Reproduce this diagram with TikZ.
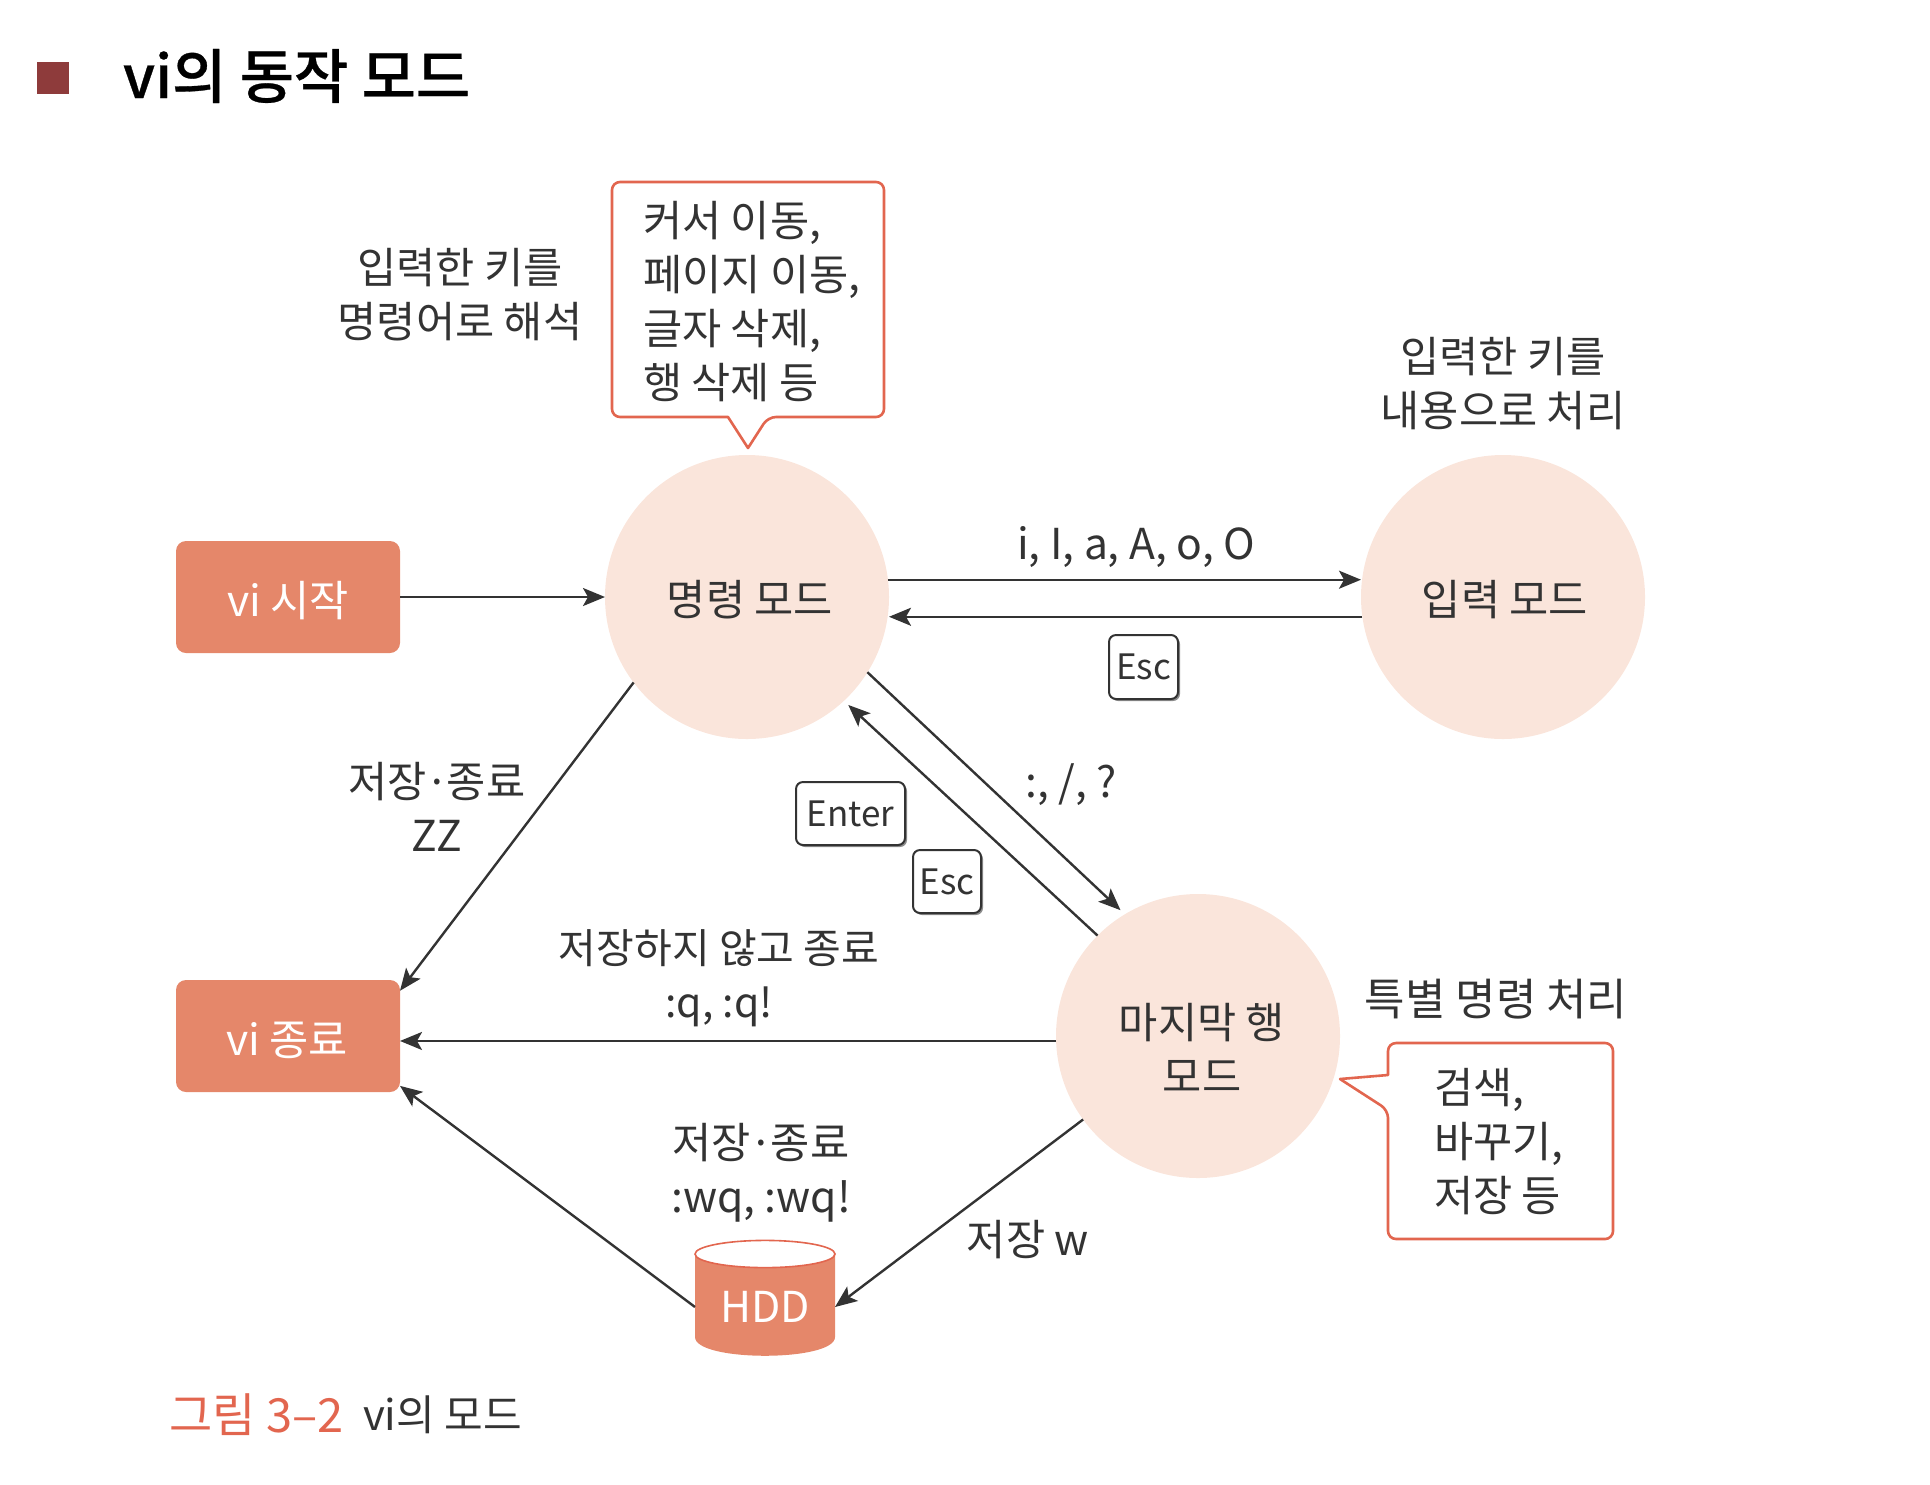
\documentclass[tikz,border=0pt]{standalone}
\usepackage{fontspec}
\setmainfont{Noto Sans CJK KR}
\newfontfamily\titlefont[FakeBold=0.5]{Noto Sans CJK KR Medium}
\usetikzlibrary{arrows.meta,shadows}
\definecolor{txt}{HTML}{333333}
\definecolor{circ}{HTML}{FAE5DB}
\definecolor{boxc}{HTML}{E5876A}
\definecolor{redl}{HTML}{E2664F}
\definecolor{sq}{HTML}{8E3B3B}
\newcommand{\mdot}{\hspace{-.05em}·\hspace{-.05em}}
\tikzset{
  base/.style={font=\fontsize{21.3}{27}\selectfont,text=txt,inner sep=0pt,outer sep=0pt,align=center},
  modecircle/.style={base,circle,fill=circ,minimum size=142pt},
  startbox/.style={base,rectangle,rounded corners=5pt,fill=boxc,text=white,minimum width=112pt,minimum height=56pt},
  keybox/.style={base,rectangle,rounded corners=3.5pt,draw=txt,line width=1pt,fill=white,font=\fontsize{17.5}{20}\selectfont,drop shadow={shadow xshift=1pt,shadow yshift=-1pt,fill=black,opacity=.45}},
  callout/.style={draw=redl,line width=1.3pt,fill=white,rounded corners=4pt,line join=round},
  lead/.style={draw=txt,line width=1.2pt,-{Stealth[length=11pt,width=9pt,inset=2.5pt]}},
  lab/.style={base},
  leftlab/.style={base,align=left,anchor=west},
}
\begin{document}
\begin{tikzpicture}[x=.5pt,y=-.5pt]
\useasboundingbox (0,0) rectangle (1930,1484);
% title
\fill[sq] (37,62) rectangle (69,94);
\node[base,anchor=west,text=black,font=\fontsize{29.5}{32}\titlefont] (title) at (123,76) {vi의 동작 모드};
% callouts
\draw[callout] (612,182) -- (884,182) -- (884,417) -- (768,417) [sharp corners] -- (748,448) -- (728,417) [rounded corners=4pt] -- (612,417) -- cycle;
\draw[callout] (1388,1043) -- (1613,1043) -- (1613,1239) -- (1388,1239) -- (1388,1110) [sharp corners] -- (1340,1079) -- (1388,1075) [rounded corners=4pt] -- cycle;
\node[leftlab] (c1) at (643,302) {커서 이동,\\페이지 이동,\\글자 삭제,\\행 삭제 등};
\node[leftlab] (c2) at (1434,1142) {검색,\\바꾸기,\\저장 등};
% modes
\node[modecircle] (cmd) at (747,597) {};
\node[base] (cmdt) at (750,600) {명령 모드};
\node[modecircle] (inp) at (1503,597) {};
\node[base] (inpt) at (1505,600) {입력 모드};
\node[modecircle] (last) at (1198,1036) {};
\node[base] (lastt) at (1202,1048) {마지막 행\\모드};
\node[startbox] (start) at (288,597) {};
\node[base,text=white] (startt) at (288,601) {vi 시작};
\node[startbox] (end) at (288,1036) {};
\node[base,text=white] (endt) at (287,1040) {vi 종료};
% HDD
\fill[boxc] (695,1254) -- (695,1337) .. controls (695,1362) and (835,1362) .. (835,1337) -- (835,1254) -- cycle;
\draw[redl,line width=.8pt,fill=white] (765,1254) ellipse [x radius=35pt,y radius=6.8pt];
\node[base,text=white,minimum width=70pt,minimum height=50pt] (hdd) at (765,1307) {HDD};
% connectors
\draw[lead] (start.east) -- (cmd.west);
\draw[lead] (cmd.7.3) -- (cmd.7.3 -| inp.west);
\draw[lead] (inp.188.1) -- (inp.188.1 -| cmd.east);
\draw[lead,shorten >=3pt] (cmd.-32.8) -- (last.121);
\draw[lead,shorten >=3pt] (last.135) -- (cmd.-47.5);
\draw[lead] (cmd.217.3) -- (end.22.5);
\draw[lead] (last.182.4) -- (last.182.4 -| end.east);
\draw[lead] (last.216) -- (hdd.east);
\draw[lead] (hdd.west) -- (end.-24);
% labels
\node[lab] (a) at (460,295) {입력한 키를\\명령어로 해석};
\node[lab] (b) at (1503,384) {입력한 키를\\내용으로 처리};
\node[lab] (k1) at (1136,547) {i, I, a, A, o, O};
\node[lab] (k2) at (1071,785) {:, /, ?};
\node[lab] (k3) at (437,807) {저장\mdot 종료\\ZZ};
\node[lab,font=\fontsize{20.5}{27}\selectfont] (k4) at (719,978) {저장하지 않고 종료\\:q, :q!};
\node[lab] (k5) at (761,1173) {저장\mdot 종료\\:wq, :wq!};
\node[lab] (k6) at (1028,1240) {저장 w};
\node[lab,font=\fontsize{22}{27}\selectfont] (k7) at (1496,999) {특별 명령 처리};
% keys
\node[keybox,minimum width=34.5pt,minimum height=32pt] (esc1) at (1143.5,667) {Esc};
\node[keybox,minimum width=54.5pt,minimum height=31.5pt] (ent) at (850.5,813.5) {Enter};
\node[keybox,minimum width=34pt,minimum height=31.5pt] (esc2) at (947,881.5) {Esc};
% caption
\node[base,anchor=west,text=redl,font=\fontsize{23.5}{26}\selectfont] (cap1) at (169,1415) {그림 3–2};
\node[base,anchor=west,font=\fontsize{21}{26}\selectfont] (cap2) at (363,1415) {vi의 모드};
\end{tikzpicture}
\end{document}
